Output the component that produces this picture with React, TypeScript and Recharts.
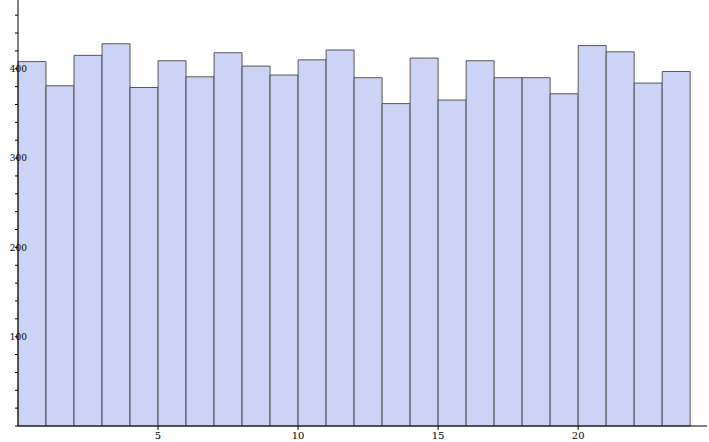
import { BarChart, Bar, XAxis, YAxis } from 'recharts';

const counts = [408, 381, 415, 428, 379, 409, 391, 418, 403, 393, 410, 421, 390, 361, 412, 365, 409, 390, 390, 372, 426, 419, 384, 397];
const xTicks = [5, 10, 15, 20];
const yTicks = [0, 20, 40, 60, 80, 100, 120, 140, 160, 180, 200, 220, 240, 260, 280, 300, 320, 340, 360, 380, 400, 420, 440, 460];

const data = counts.map((count, i) => ({ x: i + 0.5, count }));

export default function App() {
    return (
        <div style={{ position: 'absolute', left: 0, top: 0 }}>
            <BarChart width={709} height={442} data={data} margin={{ top: 0, right: 2, bottom: 0, left: 0 }} barCategoryGap={0}>
                <XAxis
                    dataKey="x"
                    type="number"
                    domain={[0, 24.6]}
                    ticks={xTicks}
                    height={16}
                    tickSize={4}
                    stroke="#000"
                    tick={{ fill: '#000', fontSize: 10, fontFamily: 'DejaVu Serif' }}
                />
                <YAxis
                    type="number"
                    domain={[0, 477]}
                    ticks={yTicks}
                    width={18}
                    tickSize={3}
                    interval={0}
                    stroke="#000"
                    tickFormatter={(v: number) => (v % 100 === 0 && v > 0 ? String(v) : '')}
                    tick={{ fill: '#000', fontSize: 9, fontFamily: 'DejaVu Serif', dx: 14, dy: 0 }}
                />
                <Bar dataKey="count" fill="#ccd3f5" stroke="#333" strokeWidth={0.8} isAnimationActive={false} />
            </BarChart>
        </div>
    );
}
